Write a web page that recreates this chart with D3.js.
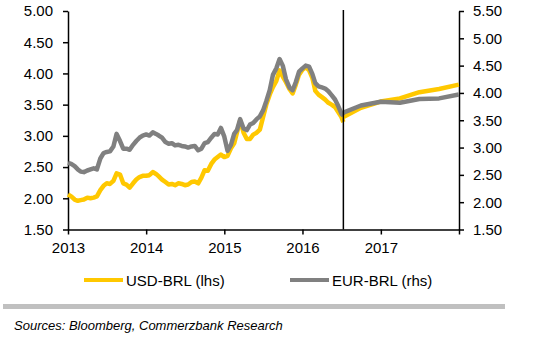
<!DOCTYPE html>
<html>
<head>
<meta charset="utf-8">
<style>
  body { margin: 0; background: #fff; }
  svg { font-family: "Liberation Sans", Arial, sans-serif; }
</style>
</head>
<body>
<svg width="538" height="338"></svg>
<script src="https://d3js.org/d3.v7.min.js"></script>
<script>
// semi-monthly history, Jan 2013 .. Jul 2016
var usdBrl = [
  2.06, 2.03, 1.98, 1.96, 1.97, 1.98, 2.01, 2.00, 2.01, 2.03, 2.13, 2.20,
  2.24, 2.23, 2.28, 2.40, 2.38, 2.24, 2.22, 2.17, 2.24, 2.30, 2.34, 2.36,
  2.36, 2.37, 2.42, 2.39, 2.35, 2.30, 2.26, 2.22, 2.23, 2.21, 2.24, 2.23,
  2.21, 2.22, 2.26, 2.27, 2.24, 2.33, 2.45, 2.44, 2.55, 2.62, 2.66, 2.70,
  2.66, 2.68, 2.80, 2.88, 3.05, 3.25, 3.05, 2.95, 2.95, 3.02, 3.05, 3.10,
  3.30, 3.50, 3.66, 3.78, 3.88, 4.05, 3.95, 3.86, 3.75, 3.68, 3.82, 3.98,
  4.06, 4.10, 4.05, 3.93, 3.72, 3.66, 3.62, 3.58, 3.53, 3.50, 3.46, 3.38,
  3.30, 3.22
];
var eurBrl = [
  2.72, 2.70, 2.66, 2.60, 2.56, 2.55, 2.58, 2.60, 2.62, 2.60, 2.80, 2.90,
  2.92, 2.93, 3.02, 3.25, 3.12, 2.98, 2.98, 2.96, 3.05, 3.12, 3.18, 3.22,
  3.24, 3.22, 3.28, 3.25, 3.22, 3.18, 3.10, 3.07, 3.08, 3.04, 3.05, 3.03,
  3.02, 3.00, 3.02, 3.03, 2.95, 2.98, 3.08, 3.10, 3.18, 3.25, 3.24, 3.36,
  3.20, 2.94, 3.05, 3.25, 3.32, 3.52, 3.35, 3.32, 3.42, 3.45, 3.52, 3.57,
  3.68, 3.85, 4.05, 4.33, 4.45, 4.62, 4.50, 4.25, 4.10, 4.05, 4.20, 4.39,
  4.45, 4.50, 4.48, 4.35, 4.18, 4.12, 4.10, 4.08, 4.03, 3.96, 3.88, 3.76,
  3.62, 3.58
];
// forecast, end of quarters
var fcDates = ["2016-07-10", "2016-09-30", "2016-12-31", "2017-03-31", "2017-06-30", "2017-09-30", "2017-12-31"];
var usdFc = [3.30, 3.45, 3.55, 3.60, 3.70, 3.75, 3.82];
var eurFc = [3.64, 3.77, 3.84, 3.82, 3.89, 3.90, 3.97];
var cutDate = "2016-07-10";
var leftTicks = [1.5, 2, 2.5, 3, 3.5, 4, 4.5, 5];
var rightTicks = [1.5, 2, 2.5, 3, 3.5, 4, 4.5, 5, 5.5];
var years = [2013, 2014, 2015, 2016, 2017, 2018];
var seriesNames = ["USD-BRL (lhs)", "EUR-BRL (rhs)"];
var colors = ["#ffc800", "#808080"];

var parse = d3.timeParse("%Y-%m-%d");
// history dates: 1st and 16th of each month, last point on the cut date
var histDates = [];
d3.timeMonth.range(new Date(2013, 0, 1), new Date(2016, 6, 2)).forEach(function(m) {
  histDates.push(m, new Date(m.getFullYear(), m.getMonth(), 16));
});
histDates = histDates.slice(0, usdBrl.length - 1);
histDates.push(parse(cutDate));

var svg = d3.select("svg"),
    plotL = 68, plotR = 459, plotT = 11, plotB = 229.5;

var x = d3.scaleTime().domain([new Date(2013, 0, 1), new Date(2018, 0, 1)]).range([plotL, plotR]);
var yL = d3.scaleLinear().domain([1.5, 5]).range([plotB, plotT]);
var yR = d3.scaleLinear().domain([1.5, 5.5]).range([plotB, plotT]);

function styleAxis(g) {
  g.selectAll("path,line").attr("stroke", "#000").attr("stroke-width", 1.5);
  g.selectAll("text").attr("font-size", 15).attr("fill", "#000");
}

svg.append("g").attr("transform", "translate(" + plotL + ",0)")
  .call(d3.axisLeft(yL).tickValues(leftTicks).tickFormat(d3.format(".2f")).tickSizeInner(5).tickSizeOuter(0).tickPadding(10))
  .call(styleAxis);

svg.append("g").attr("transform", "translate(" + plotR + ",0)")
  .call(d3.axisRight(yR).tickValues(rightTicks).tickFormat(d3.format(".2f")).tickSizeInner(5).tickSizeOuter(0).tickPadding(9))
  .call(styleAxis);

svg.append("g").attr("transform", "translate(0," + plotB + ")")
  .call(d3.axisBottom(x).tickValues(years.map(function(y) { return new Date(y, 0, 1); }))
    .tickFormat(function(d) { var y = d.getFullYear(); return y < 2018 ? y : ""; })
    .tickSizeInner(5).tickSizeOuter(0).tickPadding(8))
  .call(styleAxis);

var lineL = d3.line().x(function(d) { return x(d[0]); }).y(function(d) { return yL(d[1]); });
var lineR = d3.line().x(function(d) { return x(d[0]); }).y(function(d) { return yR(d[1]); });

function pairs(dates, vals) { return vals.map(function(v, i) { return [dates[i], v]; }); }
var fcD = fcDates.map(parse);

function drawLine(data, gen, color) {
  svg.append("path").datum(data).attr("d", gen)
    .attr("fill", "none").attr("stroke", color).attr("stroke-width", 4.5).attr("stroke-linejoin", "round");
}
drawLine(pairs(histDates, usdBrl), lineL, colors[0]);
drawLine(pairs(fcD, usdFc), lineL, colors[0]);
drawLine(pairs(histDates, eurBrl), lineR, colors[1]);
drawLine(pairs(fcD, eurFc), lineR, colors[1]);

// forecast divider
svg.append("line")
  .attr("x1", x(parse(cutDate))).attr("x2", x(parse(cutDate)))
  .attr("y1", plotT - 1).attr("y2", plotB)
  .attr("stroke", "#000").attr("stroke-width", 1.5);

// legend
var legX = [84, 290];
seriesNames.forEach(function(name, i) {
  svg.append("line").attr("x1", legX[i]).attr("x2", legX[i] + 39)
    .attr("y1", 280).attr("y2", 280)
    .attr("stroke", colors[i]).attr("stroke-width", 4);
  svg.append("text").attr("x", legX[i] + 42).attr("y", 285.5)
    .attr("font-size", 15).text(name);
});

svg.append("rect").attr("x", 3).attr("y", 304).attr("width", 502).attr("height", 5).attr("fill", "#c0c0c0");

svg.append("text").attr("x", 14).attr("y", 330)
  .attr("font-size", 13).attr("font-style", "italic").text("Sources: Bloomberg, Commerzbank Research");
</script>
</body>
</html>
